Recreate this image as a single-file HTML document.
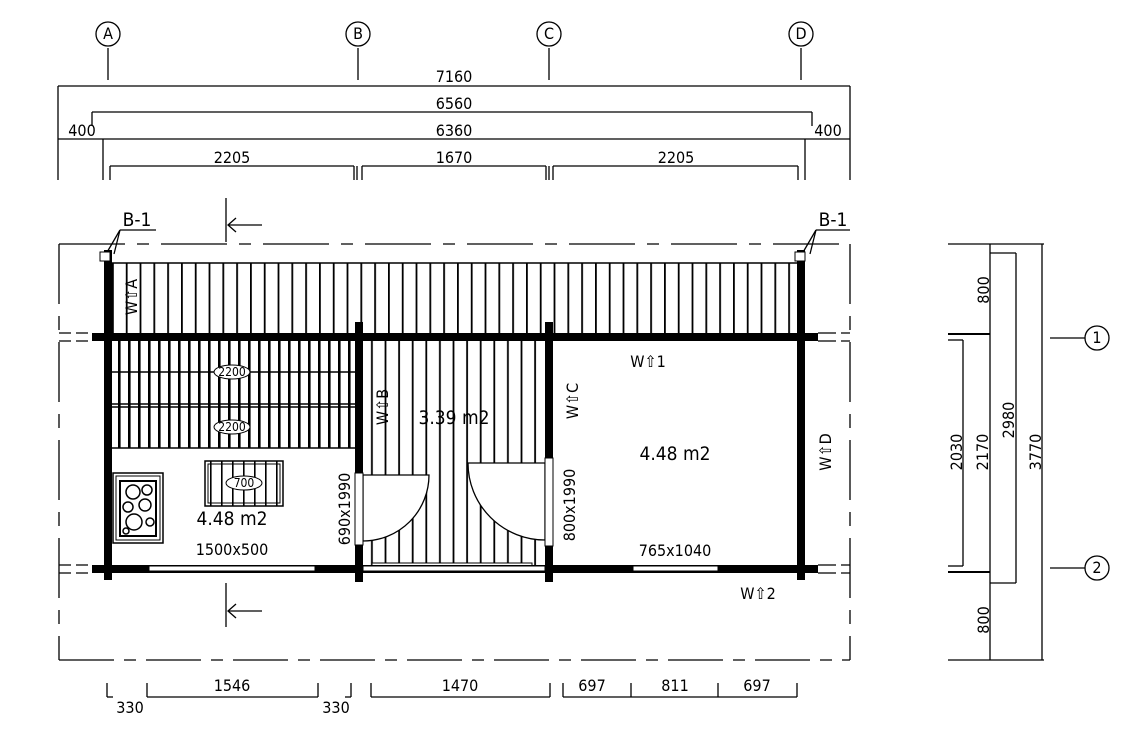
<!DOCTYPE html>
<html><head><meta charset="utf-8"><style>
html,body{margin:0;padding:0;background:#fff;}
svg{display:block;}
text{font-family:"DejaVu Sans Condensed","Liberation Sans Narrow","Liberation Sans",sans-serif;fill:#000;}
</style></head><body>
<svg width="1140" height="738" viewBox="0 0 1140 738" xmlns="http://www.w3.org/2000/svg">
<defs>
<pattern id="deck" x="112" y="0" width="13.8" height="10" patternUnits="userSpaceOnUse"><rect x="0" y="0" width="1.8" height="10" fill="#000"/></pattern>
<pattern id="slat" x="112" y="0" width="10" height="10" patternUnits="userSpaceOnUse"><rect x="6" y="0" width="2.6" height="10" fill="#000"/></pattern>
<pattern id="slat2" x="363" y="0" width="13.6" height="10" patternUnits="userSpaceOnUse"><rect x="8" y="0" width="1.8" height="10" fill="#000"/></pattern>
<pattern id="bench" x="205" y="0" width="11" height="10" patternUnits="userSpaceOnUse"><rect x="5" y="0" width="1.6" height="10" fill="#000"/></pattern>
</defs>
<g fill="none" stroke="#000" stroke-width="1.3">
<circle cx="108" cy="34" r="12"/><circle cx="358" cy="34" r="12"/><circle cx="549" cy="34" r="12"/><circle cx="801" cy="34" r="12"/>
<line x1="108" y1="48" x2="108" y2="80"/><line x1="358" y1="48" x2="358" y2="80"/><line x1="549" y1="48" x2="549" y2="80"/><line x1="801" y1="48" x2="801" y2="80"/>
<line x1="58" y1="86" x2="850" y2="86"/>
<line x1="92" y1="112" x2="812" y2="112"/>
<line x1="58" y1="139" x2="850" y2="139"/>
<line x1="58" y1="86" x2="58" y2="180"/><line x1="850" y1="86" x2="850" y2="180"/>
<line x1="92" y1="112" x2="92" y2="126"/><line x1="812" y1="112" x2="812" y2="126"/>
<line x1="103" y1="139" x2="103" y2="180"/><line x1="805" y1="139" x2="805" y2="180"/>
<line x1="110" y1="166" x2="354" y2="166"/><line x1="362" y1="166" x2="546" y2="166"/><line x1="553" y1="166" x2="798" y2="166"/>
<line x1="110" y1="166" x2="110" y2="180"/><line x1="354" y1="166" x2="354" y2="180"/><line x1="357" y1="166" x2="357" y2="180"/><line x1="362" y1="166" x2="362" y2="180"/>
<line x1="546" y1="166" x2="546" y2="180"/><line x1="549" y1="166" x2="549" y2="180"/><line x1="553" y1="166" x2="553" y2="180"/><line x1="798" y1="166" x2="798" y2="180"/>
<line x1="59" y1="244" x2="850" y2="244" stroke-dasharray="66,12,12,12"/>
<line x1="59" y1="660" x2="850" y2="660" stroke-dasharray="55,10,12,10"/>
<line x1="59" y1="244" x2="59" y2="660" stroke-dasharray="60,12,14,12"/>
<line x1="850" y1="244" x2="850" y2="660" stroke-dasharray="60,12,14,12"/>
<line x1="226" y1="198" x2="226" y2="242"/><line x1="228" y1="225" x2="262" y2="225"/><polyline points="236,218 228,225 236,232"/>
<line x1="226" y1="583" x2="226" y2="627"/><line x1="228" y1="611" x2="262" y2="611"/><polyline points="236,604 228,611 236,618"/>
<line x1="120" y1="230" x2="156" y2="230"/><line x1="120" y1="230" x2="106" y2="254"/><line x1="120" y1="230" x2="114" y2="254"/>
<line x1="816" y1="230" x2="850" y2="230"/><line x1="816" y1="230" x2="802" y2="254"/><line x1="816" y1="230" x2="810" y2="254"/>
</g>
<rect x="112" y="263" width="685" height="70" fill="url(#deck)"/>
<line x1="112" y1="263" x2="797" y2="263" stroke="#000" stroke-width="1.5"/>
<rect x="112" y="341" width="243" height="107" fill="url(#slat)"/>
<g stroke="#000" stroke-width="1.5">
<line x1="112" y1="372" x2="355" y2="372"/><line x1="112" y1="404" x2="355" y2="404"/><line x1="112" y1="407" x2="355" y2="407"/><line x1="112" y1="448" x2="355" y2="448"/>
</g>
<g stroke="#000" stroke-width="1" fill="#fff">
<ellipse cx="232" cy="372" rx="18" ry="7"/><ellipse cx="232" cy="427" rx="18" ry="7"/>
</g>
<text x="232" y="376" font-size="12" text-anchor="middle">2200</text>
<text x="232" y="431" font-size="12" text-anchor="middle">2200</text>
<rect x="363" y="341" width="182" height="224" fill="url(#slat2)"/>
<rect x="372" y="563" width="160" height="6" fill="#fff" stroke="#000" stroke-width="1"/>
<rect x="205" y="461" width="78" height="45" fill="url(#bench)" stroke="#000" stroke-width="1.5"/>
<rect x="208" y="464" width="72" height="39" fill="none" stroke="#000" stroke-width="1"/>
<ellipse cx="244" cy="483" rx="18" ry="7" fill="#fff" stroke="#000"/>
<text x="244" y="487" font-size="12" text-anchor="middle">700</text>
<rect x="113" y="473" width="50" height="70" fill="#fff" stroke="#000" stroke-width="1.5"/>
<rect x="116" y="476" width="44" height="64" fill="none" stroke="#000" stroke-width="1"/>
<rect x="120" y="481" width="36" height="55" fill="#fff" stroke="#000" stroke-width="2"/>
<g fill="none" stroke="#000" stroke-width="1.5">
<circle cx="133" cy="492" r="7"/><circle cx="147" cy="490" r="5"/><circle cx="128" cy="507" r="5"/><circle cx="145" cy="505" r="6"/><circle cx="134" cy="522" r="8"/><circle cx="150" cy="522" r="4"/><circle cx="126" cy="531" r="3"/>
</g>
<path d="M363,475 L429,475 A66,66 0 0 1 363,541 Z" fill="#fff" stroke="#000" stroke-width="1.3"/>
<path d="M545,463 L468,463 A77,77 0 0 0 545,540 Z" fill="#fff" stroke="#000" stroke-width="1.3"/>
<rect x="355" y="473" width="8" height="72" fill="#fff" stroke="#000" stroke-width="1"/>
<rect x="545" y="458" width="8" height="88" fill="#fff" stroke="#000" stroke-width="1"/>
<g fill="#000">
<rect x="92" y="333" width="726" height="8"/>
<rect x="92" y="565" width="726" height="8"/>
<rect x="104" y="250" width="8" height="330"/>
<rect x="797" y="250" width="8" height="330"/>
<rect x="355" y="322" width="8" height="151"/><rect x="355" y="545" width="8" height="37"/>
<rect x="545" y="322" width="8" height="136"/><rect x="545" y="546" width="8" height="36"/>
</g>
<g fill="#fff" stroke="#000" stroke-width="1">
<rect x="100" y="252" width="10" height="9"/><rect x="795" y="252" width="10" height="9"/>
<rect x="149" y="566" width="166" height="5"/><rect x="633" y="566" width="85" height="5"/>
<rect x="363" y="566" width="182" height="5"/>
</g>
<g stroke="#000" stroke-width="1.3">
<line x1="59" y1="333" x2="92" y2="333" stroke-dasharray="12,5"/><line x1="59" y1="341" x2="92" y2="341" stroke-dasharray="12,5"/>
<line x1="818" y1="333" x2="850" y2="333" stroke-dasharray="18,5"/><line x1="818" y1="341" x2="850" y2="341" stroke-dasharray="18,5"/>
<line x1="59" y1="565" x2="92" y2="565" stroke-dasharray="12,5"/><line x1="59" y1="573" x2="92" y2="573" stroke-dasharray="12,5"/>
<line x1="818" y1="565" x2="850" y2="565" stroke-dasharray="18,5"/><line x1="818" y1="573" x2="850" y2="573" stroke-dasharray="18,5"/>
</g>
<g fill="none" stroke="#000" stroke-width="1.3">
<line x1="948" y1="244" x2="1044" y2="244"/>
<line x1="948" y1="660" x2="1044" y2="660"/>
<line x1="948" y1="334" x2="990" y2="334" stroke-width="2"/>
<line x1="948" y1="572" x2="990" y2="572" stroke-width="2"/>
<line x1="948" y1="340" x2="963" y2="340"/><line x1="948" y1="566" x2="963" y2="566"/>
<line x1="963" y1="340" x2="963" y2="566"/>
<line x1="990" y1="244" x2="990" y2="660"/>
<line x1="990" y1="253" x2="1016" y2="253"/><line x1="990" y1="583" x2="1016" y2="583"/>
<line x1="1016" y1="253" x2="1016" y2="583"/>
<line x1="1042" y1="244" x2="1042" y2="660"/>
<line x1="1050" y1="338" x2="1085" y2="338"/><circle cx="1097" cy="338" r="12"/>
<line x1="1050" y1="568" x2="1085" y2="568"/><circle cx="1097" cy="568" r="12"/>
</g>
<g fill="none" stroke="#000" stroke-width="1.3">
<line x1="107" y1="683" x2="107" y2="697"/><line x1="147" y1="683" x2="147" y2="697"/><line x1="318" y1="683" x2="318" y2="697"/><line x1="351" y1="683" x2="351" y2="697"/>
<line x1="147" y1="697" x2="318" y2="697"/><line x1="107" y1="697" x2="113" y2="697"/><line x1="345" y1="697" x2="351" y2="697"/>
<line x1="371" y1="683" x2="371" y2="697"/><line x1="550" y1="683" x2="550" y2="697"/><line x1="371" y1="697" x2="550" y2="697"/>
<line x1="563" y1="683" x2="563" y2="697"/><line x1="631" y1="683" x2="631" y2="697"/><line x1="718" y1="683" x2="718" y2="697"/><line x1="797" y1="683" x2="797" y2="697"/>
<line x1="563" y1="697" x2="797" y2="697"/>
</g>
<g font-size="16">
<text x="108" y="39" text-anchor="middle">A</text><text x="358" y="39" text-anchor="middle">B</text><text x="549" y="39" text-anchor="middle">C</text><text x="801" y="39" text-anchor="middle">D</text>
<text x="1097" y="343" text-anchor="middle">1</text><text x="1097" y="573" text-anchor="middle">2</text>
<text x="454" y="82" text-anchor="middle">7160</text>
<text x="454" y="109" text-anchor="middle">6560</text>
<text x="454" y="136" text-anchor="middle">6360</text>
<text x="82" y="136" text-anchor="middle">400</text><text x="828" y="136" text-anchor="middle">400</text>
<text x="232" y="163" text-anchor="middle">2205</text><text x="454" y="163" text-anchor="middle">1670</text><text x="676" y="163" text-anchor="middle">2205</text>
<text x="137" y="226" text-anchor="middle" fill="#6b3a1a" font-size="19">B-1</text><text x="833" y="226" text-anchor="middle" fill="#6b3a1a" font-size="19">B-1</text>
<text x="232" y="691" text-anchor="middle">1546</text><text x="460" y="691" text-anchor="middle">1470</text>
<text x="592" y="691" text-anchor="middle">697</text><text x="675" y="691" text-anchor="middle">811</text><text x="757" y="691" text-anchor="middle">697</text>
<text x="130" y="713" text-anchor="middle">330</text><text x="336" y="713" text-anchor="middle">330</text>
<text x="232" y="525" text-anchor="middle" font-size="19">4.48 m2</text>
<text x="232" y="555" text-anchor="middle">1500x500</text>
<text x="454" y="424" text-anchor="middle" font-size="19">3.39 m2</text>
<text x="675" y="460" text-anchor="middle" font-size="19">4.48 m2</text>
<text x="675" y="556" text-anchor="middle">765x1040</text>
<text x="648" y="367" text-anchor="middle">W⇧1</text>
<text x="758" y="599" text-anchor="middle">W⇧2</text>
<text transform="translate(350,509) rotate(-90)" text-anchor="middle">690x1990</text>
<text transform="translate(575,505) rotate(-90)" text-anchor="middle">800x1990</text>
<text transform="translate(137,297) rotate(-90)" text-anchor="middle">W⇧A</text>
<text transform="translate(388,407) rotate(-90)" text-anchor="middle">W⇧B</text>
<text transform="translate(578,401) rotate(-90)" text-anchor="middle">W⇧C</text>
<text transform="translate(831,452) rotate(-90)" text-anchor="middle">W⇧D</text>
<text transform="translate(989,290) rotate(-90)" text-anchor="middle">800</text>
<text transform="translate(989,620) rotate(-90)" text-anchor="middle">800</text>
<text transform="translate(962,452) rotate(-90)" text-anchor="middle">2030</text>
<text transform="translate(988,452) rotate(-90)" text-anchor="middle">2170</text>
<text transform="translate(1014,420) rotate(-90)" text-anchor="middle">2980</text>
<text transform="translate(1041,452) rotate(-90)" text-anchor="middle">3770</text>
</g>
</svg>
</body></html>
